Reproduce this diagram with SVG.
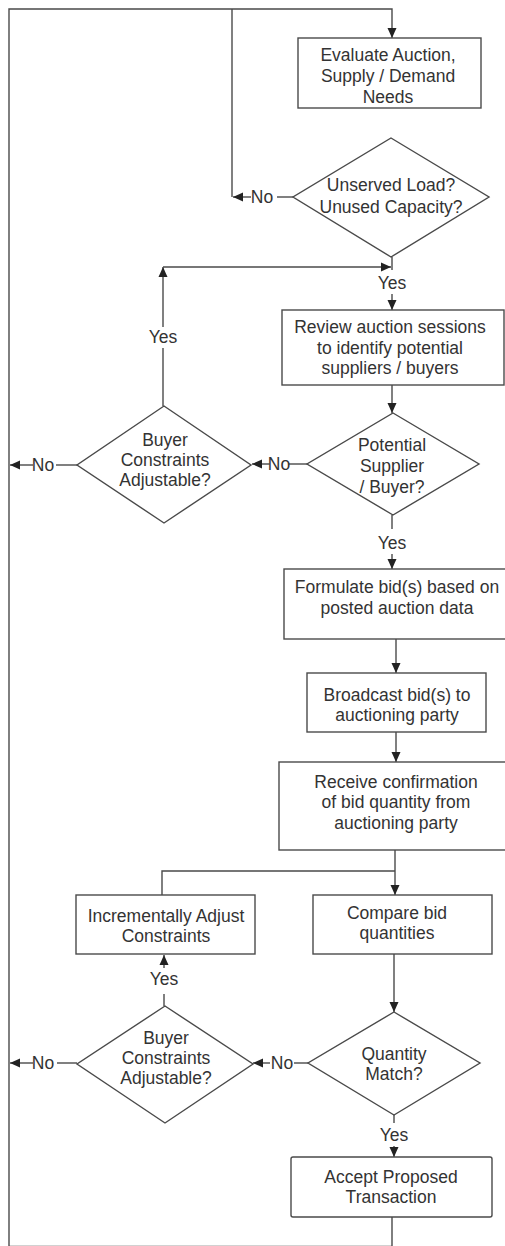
<svg xmlns="http://www.w3.org/2000/svg" width="505" height="1246" viewBox="0 0 505 1246">
  <defs>
    <marker id="arrow" markerUnits="userSpaceOnUse" markerWidth="10" markerHeight="10" viewBox="0 0 10 10" refX="10" refY="5" orient="auto">
      <path d="M0,0.5 L10,5 L0,9.5 z" fill="#222"/>
    </marker>
    <style>
      .shape { fill: #ffffff; stroke: #4a4a4a; stroke-width: 1.4; }
      .line { fill: none; stroke: #4a4a4a; stroke-width: 1.4; }
      .arr { fill: none; stroke: #4a4a4a; stroke-width: 1.4; marker-end: url(#arrow); }
      text { font-family: "Liberation Sans", Arial, sans-serif; font-size: 17.5px; fill: #333333; text-anchor: middle; }
    </style>
  </defs>
  <rect x="0" y="0" width="505" height="1246" fill="#ffffff"/>

  <!-- connectors -->
  <g id="connectors">
    <!-- outer loop back to the top -->
    <path class="arr" d="M392,1217 V1246.5 H9 V9 H392 V38"/>
    <!-- Unserved Load? : No -->
    <path class="line" d="M293,197 H277"/>
    <path class="line" d="M232,9 V197"/>
    <path class="arr" d="M251,197 H233"/>
    <text x="262" y="203">No</text>
    <!-- Unserved Load? : Yes -->
    <path class="line" d="M392,257 V270"/>
    <text x="392" y="289">Yes</text>
    <path class="arr" d="M392,294 V310"/>
    <!-- Buyer Constraints Adjustable? (upper) : Yes -->
    <path class="line" d="M163,406 V348"/>
    <text x="163" y="343">Yes</text>
    <path class="arr" d="M163,327 V267"/>
    <path class="arr" d="M163,267 H391"/>
    <!-- Review sessions -> Potential Supplier -->
    <path class="arr" d="M392,385 V413"/>
    <!-- Potential Supplier : No -->
    <path class="line" d="M307,464 H289"/>
    <text x="279" y="470">No</text>
    <path class="arr" d="M270,464 H252"/>
    <!-- Buyer Constraints Adjustable? (upper) : No -->
    <path class="line" d="M77,465 H56"/>
    <text x="43" y="471">No</text>
    <path class="arr" d="M33,465 H10"/>
    <!-- Potential Supplier : Yes -->
    <path class="line" d="M392,515 V529"/>
    <text x="392" y="549">Yes</text>
    <path class="arr" d="M392,554 V569"/>
    <!-- Formulate -> Broadcast -> Receive -->
    <path class="arr" d="M396,639 V673"/>
    <path class="arr" d="M396,732 V762"/>
    <!-- Receive -> Compare / Incrementally Adjust -->
    <path class="arr" d="M395,850 V895"/>
    <path class="line" d="M395,871 H162 V895"/>
    <!-- Compare -> Quantity Match? -->
    <path class="arr" d="M394,954 V1012"/>
    <!-- Quantity Match? : No -->
    <path class="line" d="M308,1063 H294"/>
    <text x="282" y="1069">No</text>
    <path class="arr" d="M270,1063 H253"/>
    <!-- Buyer Constraints Adjustable? (lower) : No -->
    <path class="line" d="M77,1063 H57"/>
    <text x="43" y="1069">No</text>
    <path class="arr" d="M33,1063 H10"/>
    <!-- Buyer Constraints Adjustable? (lower) : Yes -->
    <path class="line" d="M164,1006 V994"/>
    <text x="164" y="985">Yes</text>
    <path class="arr" d="M164,968 V955"/>
    <!-- Quantity Match? : Yes -->
    <path class="line" d="M394,1115 V1123"/>
    <text x="394" y="1141">Yes</text>
    <path class="arr" d="M394,1146 V1157"/>
  </g>

  <!-- nodes -->
  <g id="evaluate">
    <rect class="shape" x="298" y="38" width="183" height="70"/>
    <text x="388" y="61">Evaluate Auction,</text>
    <text x="388" y="82">Supply / Demand</text>
    <text x="388" y="103">Needs</text>
  </g>
  <g id="unserved">
    <polygon class="shape" points="391,138 489,197 391,257 293,197"/>
    <text x="391" y="191">Unserved Load?</text>
    <text x="391" y="213">Unused Capacity?</text>
  </g>
  <g id="review">
    <rect class="shape" x="282" y="310" width="222" height="75"/>
    <text x="390" y="333">Review auction sessions</text>
    <text x="390" y="354">to identify potential</text>
    <text x="390" y="374">suppliers / buyers</text>
  </g>
  <g id="potential">
    <polygon class="shape" points="393,413 479,464 393,515 307,464"/>
    <text x="392" y="451">Potential</text>
    <text x="392" y="472">Supplier</text>
    <text x="392" y="493">/ Buyer?</text>
  </g>
  <g id="adjustable-upper">
    <polygon class="shape" points="164,406 251,465 164,523 77,465"/>
    <text x="165" y="446">Buyer</text>
    <text x="165" y="466">Constraints</text>
    <text x="165" y="486">Adjustable?</text>
  </g>
  <g id="formulate">
    <rect class="shape" x="284" y="569" width="228" height="70"/>
    <text x="397" y="593">Formulate bid(s) based on</text>
    <text x="397" y="614">posted auction data</text>
  </g>
  <g id="broadcast">
    <rect class="shape" x="307" y="673" width="179" height="59"/>
    <text x="397" y="701">Broadcast bid(s) to</text>
    <text x="397" y="721">auctioning party</text>
  </g>
  <g id="receive">
    <rect class="shape" x="279" y="762" width="234" height="88"/>
    <text x="396" y="788">Receive confirmation</text>
    <text x="396" y="808">of bid quantity from</text>
    <text x="396" y="829">auctioning party</text>
  </g>
  <g id="adjust">
    <rect class="shape" x="76" y="895" width="179" height="59"/>
    <text x="166" y="922">Incrementally Adjust</text>
    <text x="166" y="942">Constraints</text>
  </g>
  <g id="compare">
    <rect class="shape" x="313" y="895" width="179" height="59"/>
    <text x="397" y="919">Compare bid</text>
    <text x="397" y="939">quantities</text>
  </g>
  <g id="adjustable-lower">
    <polygon class="shape" points="165,1006 253,1064 165,1123 77,1064"/>
    <text x="166" y="1044">Buyer</text>
    <text x="166" y="1064">Constraints</text>
    <text x="166" y="1084">Adjustable?</text>
  </g>
  <g id="match">
    <polygon class="shape" points="394,1012 480,1063 394,1115 308,1063"/>
    <text x="394" y="1060">Quantity</text>
    <text x="394" y="1080">Match?</text>
  </g>
  <g id="accept">
    <rect class="shape" x="291" y="1157" width="201" height="60" rx="2"/>
    <text x="391" y="1183">Accept Proposed</text>
    <text x="391" y="1203">Transaction</text>
  </g>
</svg>
